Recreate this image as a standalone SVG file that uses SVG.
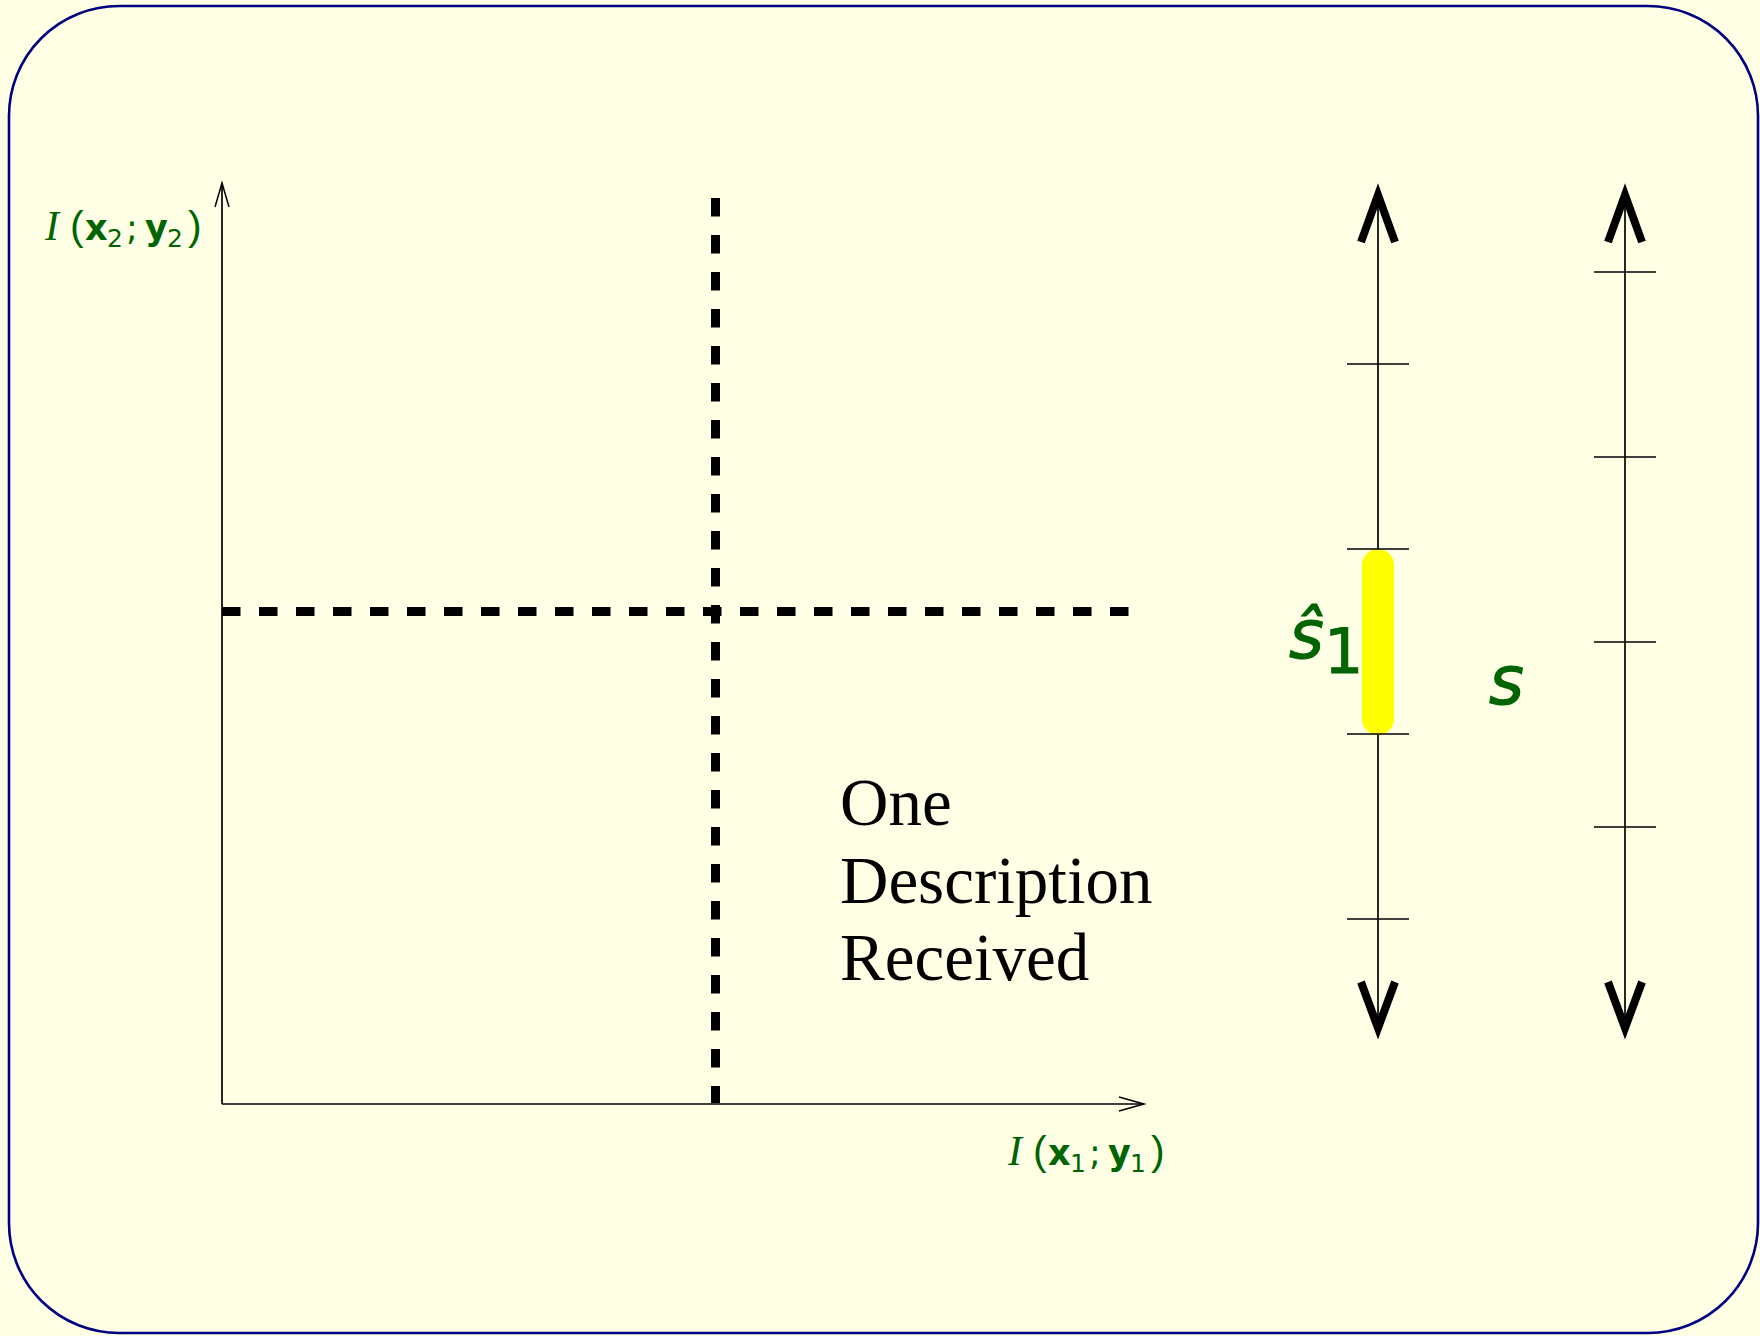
<svg xmlns="http://www.w3.org/2000/svg" width="1760" height="1336" viewBox="0 0 1760 1336">
<style>
.thin{stroke:#000;stroke-width:1.7;fill:none}
.head{stroke:#000;stroke-width:1.5;fill:none}
.bighead{stroke:#000;stroke-width:8;fill:none;stroke-linejoin:miter;stroke-linecap:butt}
.dash{stroke:#000;stroke-width:9;fill:none;stroke-dasharray:18.5 18.5}
.lbl{fill:#006400;font-family:'DejaVu Sans',sans-serif}
.txt{fill:#000;font-family:'Liberation Serif','Times New Roman',serif;font-size:67px}
</style>
<rect x="0" y="0" width="1760" height="1336" fill="#FFFFE6"/>
<rect id="frame" x="9" y="6" width="1749" height="1327" rx="110" ry="110" fill="#FFFFE6" stroke="#000080" stroke-width="2.6"/>
<g id="connectors">
  <line class="thin" x1="222" y1="1104" x2="222" y2="183"/>
  <polyline class="head" points="215,207 222,183 229,207"/>
  <line class="thin" x1="222" y1="1104" x2="1144" y2="1104"/>
  <polyline class="head" points="1119,1097 1144,1104 1119,1111"/>
  <line class="dash" x1="222" y1="611.5" x2="1130" y2="611.5"/>
  <line class="dash" x1="715.5" y1="198" x2="715.5" y2="1103"/>
</g>
<g id="axis-x2-label">
  <text class="lbl" y="240" font-size="35">
    <tspan x="45" font-family="'Liberation Serif',serif" font-style="italic" font-size="42">I</tspan><tspan x="70" font-family="'Liberation Sans',sans-serif" font-size="41">(</tspan><tspan x="85" font-weight="bold">x</tspan><tspan x="107" y="247" font-size="25">2</tspan><tspan x="126" y="240">;</tspan><tspan x="145" font-weight="bold">y</tspan><tspan x="167" y="247" font-size="25">2</tspan><tspan x="188" y="240" font-family="'Liberation Sans',sans-serif" font-size="41">)</tspan>
  </text>
</g>
<g id="axis-x1-label">
  <text class="lbl" y="1165" font-size="35">
    <tspan x="1008" font-family="'Liberation Serif',serif" font-style="italic" font-size="42">I</tspan><tspan x="1033" font-family="'Liberation Sans',sans-serif" font-size="41">(</tspan><tspan x="1048" font-weight="bold">x</tspan><tspan x="1070" y="1172" font-size="25">1</tspan><tspan x="1089" y="1165">;</tspan><tspan x="1108" font-weight="bold">y</tspan><tspan x="1130" y="1172" font-size="25">1</tspan><tspan x="1151" y="1165" font-family="'Liberation Sans',sans-serif" font-size="41">)</tspan>
  </text>
</g>
<g id="one-description-received">
  <text class="txt" x="840" y="825">One</text>
  <text class="txt" x="840" y="903">Description</text>
  <text class="txt" x="840" y="980">Received</text>
</g>
<g id="scale-s1">
  <line class="thin" x1="1378" y1="190" x2="1378" y2="1034"/>
  <polyline class="bighead" points="1361,242 1378,195 1395,242"/>
  <polyline class="bighead" points="1361,982 1378,1028 1395,982"/>
  <line stroke="#FFFF00" stroke-width="32" stroke-linecap="round" x1="1378" y1="565" x2="1378" y2="719"/>
  <line class="thin" x1="1347" y1="364" x2="1409" y2="364"/>
  <line class="thin" x1="1347" y1="549" x2="1409" y2="549"/>
  <line class="thin" x1="1347" y1="734" x2="1409" y2="734"/>
  <line class="thin" x1="1347" y1="919" x2="1409" y2="919"/>
</g>
<g id="scale-s">
  <line class="thin" x1="1625" y1="190" x2="1625" y2="1034"/>
  <polyline class="bighead" points="1608,242 1625,195 1642,242"/>
  <polyline class="bighead" points="1608,982 1625,1028 1642,982"/>
  <line class="thin" x1="1594" y1="272" x2="1656" y2="272"/>
  <line class="thin" x1="1594" y1="457" x2="1656" y2="457"/>
  <line class="thin" x1="1594" y1="642" x2="1656" y2="642"/>
  <line class="thin" x1="1594" y1="827" x2="1656" y2="827"/>
</g>
<g id="label-s1hat">
  <text class="lbl" x="1289" y="658" font-size="67" font-style="italic" stroke="#006400" stroke-width="1">ŝ<tspan x="1324" y="673" font-style="normal" font-size="62">1</tspan></text>
</g>
<g id="label-s">
  <text class="lbl" x="1489" y="704" font-size="67" font-style="italic" stroke="#006400" stroke-width="1.2">s</text>
</g>
</svg>
